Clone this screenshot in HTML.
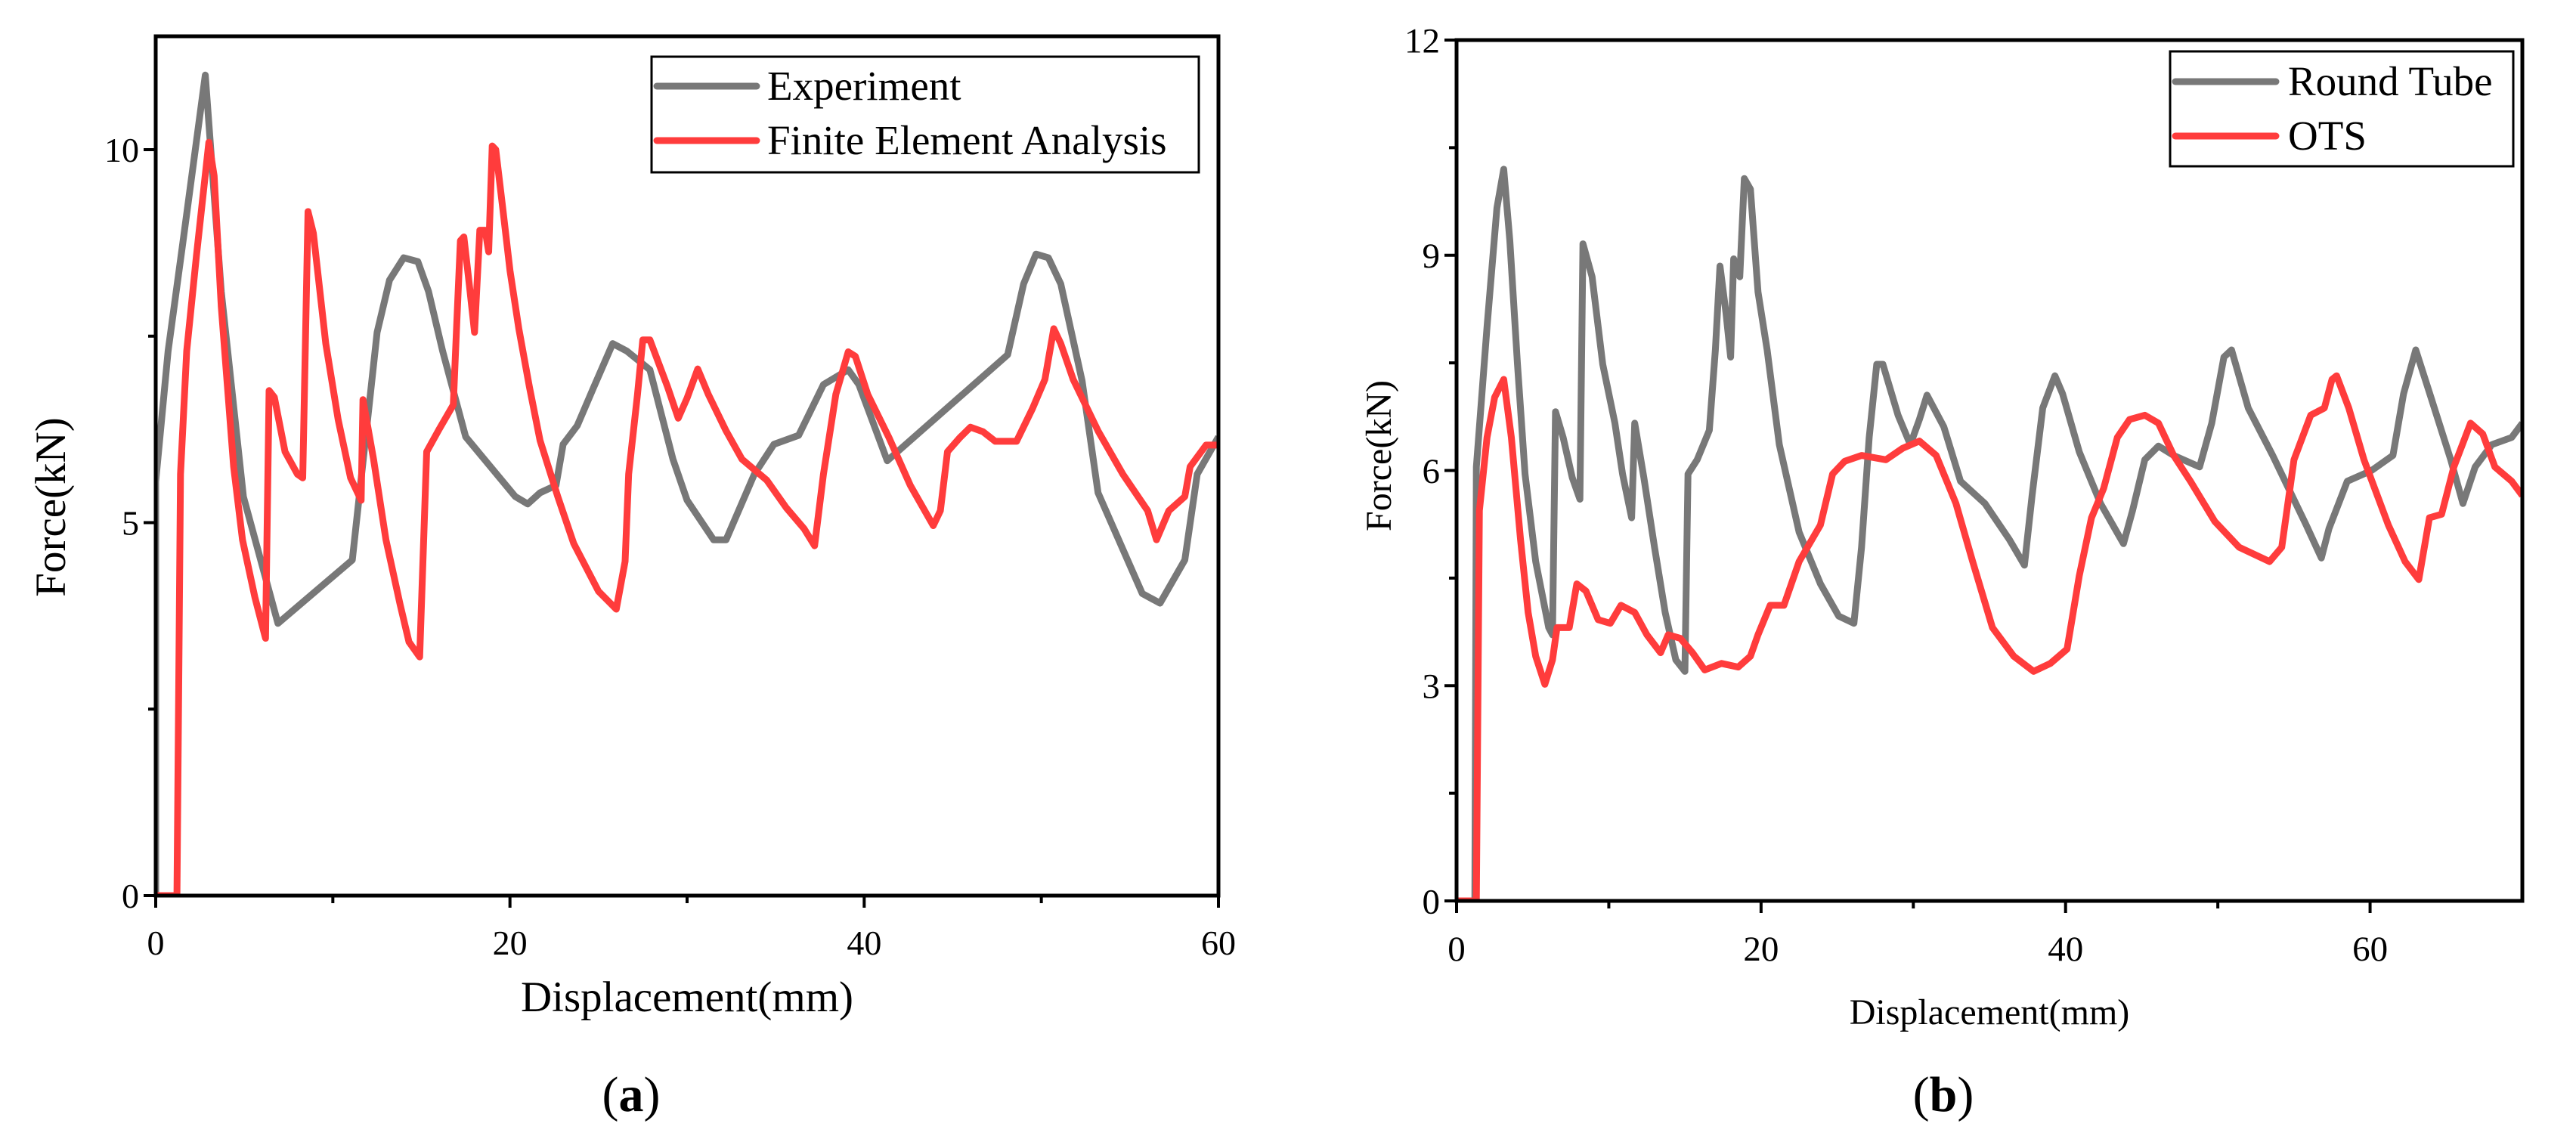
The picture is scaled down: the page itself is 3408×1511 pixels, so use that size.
<!DOCTYPE html>
<html><head><meta charset="utf-8"><style>
html,body{margin:0;padding:0;background:#fff;}
svg{display:block;font-family:"Liberation Serif",serif;}
</style></head><body>
<svg id="fig" width="3408" height="1511" viewBox="0 0 3408 1511" xmlns="http://www.w3.org/2000/svg">
<g id="pa"></g>
<g id="pb"></g>
</svg>
<script>
// Panel (a) data
const aExpX=[0,0,0.7,1.5,2.8,3.7,4.95,6.9,11.1,12.5,13.2,14.0,14.8,15.4,16.2,17.5,20.3,21.0,21.7,22.6,23.0,23.8,24.7,25.8,26.6,27.9,29.2,30.0,31.5,32.2,33.8,34.9,36.3,37.7,39.1,39.7,41.3,48.1,49.0,49.7,50.4,51.1,52.3,53.2,55.7,56.7,58.1,58.8,60];
const aExpY=[0,5.55,7.3,8.7,11.0,8.1,5.35,3.65,4.5,7.55,8.25,8.55,8.5,8.1,7.3,6.15,5.35,5.25,5.4,5.5,6.05,6.3,6.8,7.4,7.3,7.05,5.85,5.3,4.77,4.77,5.65,6.05,6.17,6.85,7.05,6.85,5.83,7.25,8.2,8.6,8.55,8.2,6.9,5.4,4.05,3.92,4.5,5.65,6.15];
const aFeaX=[0,1.2,1.4,1.75,2.3,3.0,3.3,3.7,4.4,4.9,5.6,6.2,6.4,6.7,7.3,8.0,8.3,8.6,8.9,9.6,10.3,11.0,11.6,11.7,12.3,13.0,13.8,14.3,14.9,15.3,16.0,16.8,17.0,17.2,17.4,17.7,18.0,18.3,18.6,18.8,19.0,19.2,19.6,20.0,20.5,21.1,21.7,22.7,23.6,25.0,26.0,26.5,26.7,27.2,27.5,27.9,28.9,29.5,30.0,30.6,31.2,32.2,33.1,34.5,35.6,36.6,37.2,37.7,38.4,39.1,39.5,40.2,41.4,42.6,43.9,44.3,44.7,45.4,46.0,46.7,47.4,48.6,49.5,50.2,50.7,51.1,51.8,53.2,54.6,56.0,56.5,57.2,58.1,58.4,59.3,60];
const aFeaY=[0,0,5.65,7.3,8.58,10.1,9.65,7.9,5.75,4.77,4.0,3.45,6.77,6.68,5.95,5.65,5.6,9.17,8.88,7.4,6.38,5.6,5.3,6.65,5.85,4.77,3.9,3.4,3.2,5.95,6.25,6.58,7.7,8.78,8.83,8.2,7.55,8.92,8.92,8.63,10.05,10.0,9.2,8.38,7.6,6.82,6.1,5.35,4.72,4.08,3.84,4.48,5.65,6.72,7.45,7.45,6.82,6.4,6.67,7.06,6.72,6.23,5.85,5.57,5.2,4.92,4.69,5.65,6.72,7.29,7.23,6.72,6.14,5.5,4.96,5.16,5.95,6.14,6.28,6.22,6.09,6.09,6.53,6.92,7.6,7.4,6.92,6.23,5.65,5.16,4.77,5.16,5.35,5.75,6.04,6.04];
const aXTicks=[0,20,40,60];
const aYTicks=[0,5,10];
// Panel (b) data
const bTubeX=[0,1.2,1.3,2.0,2.65,3.1,3.5,4.0,4.5,5.2,6.05,6.3,6.5,7.0,7.6,8.1,8.3,8.9,9.6,10.4,10.9,11.5,11.7,12.3,13.0,13.7,14.4,15.0,15.2,15.8,16.6,17.0,17.3,17.7,18.0,18.2,18.6,18.9,19.3,19.8,20.4,21.2,22.5,23.9,25.1,26.1,26.6,27.1,27.6,28.0,29.0,29.8,30.4,30.9,32.0,33.1,34.7,36.3,37.3,37.8,38.5,39.3,39.8,40.9,42.3,43.8,44.4,45.2,46.1,47.1,48.8,49.6,50.4,50.9,52.0,53.6,55.8,56.8,57.3,58.5,60.1,61.5,62.2,63.0,64.0,65.3,66.1,66.9,68.0,69.3,70];
const bTubeY=[0,0,6.05,8.0,9.66,10.2,9.2,7.48,5.95,4.73,3.81,3.71,6.82,6.46,5.9,5.6,9.16,8.7,7.48,6.66,5.95,5.34,6.66,5.9,4.93,4.02,3.36,3.2,5.95,6.15,6.56,7.68,8.85,8.19,7.58,8.95,8.7,10.07,9.92,8.49,7.68,6.36,5.14,4.42,3.97,3.87,4.93,6.46,7.48,7.48,6.77,6.36,6.71,7.05,6.61,5.85,5.54,5.04,4.68,5.65,6.87,7.32,7.07,6.26,5.54,4.98,5.44,6.15,6.34,6.21,6.05,6.66,7.58,7.68,6.87,6.21,5.24,4.78,5.19,5.85,6.0,6.21,7.07,7.68,7.02,6.15,5.54,6.05,6.36,6.46,6.66];
const bOtsX=[0,1.3,1.5,2.0,2.5,3.1,3.6,4.2,4.7,5.2,5.8,6.3,6.6,7.4,7.9,8.5,9.3,10.1,10.8,11.7,12.5,13.4,13.9,14.7,15.5,16.3,17.4,18.5,19.3,19.8,20.6,21.5,22.5,23.9,24.7,25.5,26.6,28.2,29.3,30.4,31.5,32.8,33.9,35.2,36.6,37.9,39.0,40.1,40.9,41.7,42.5,43.4,44.2,45.2,46.1,47.1,48.2,49.8,51.4,53.4,54.2,55.0,56.1,57.0,57.5,57.8,58.6,59.6,61.2,62.3,63.2,63.9,64.7,65.5,66.6,67.4,68.2,69.3,70];
const bOtsY=[0,0,5.44,6.46,7.02,7.27,6.46,5.04,4.02,3.41,3.02,3.36,3.81,3.81,4.42,4.32,3.92,3.87,4.12,4.02,3.71,3.46,3.71,3.66,3.46,3.22,3.31,3.26,3.41,3.71,4.12,4.12,4.73,5.24,5.95,6.13,6.21,6.15,6.31,6.41,6.21,5.54,4.73,3.81,3.41,3.2,3.31,3.51,4.53,5.34,5.75,6.46,6.71,6.77,6.66,6.21,5.85,5.29,4.93,4.73,4.93,6.15,6.77,6.87,7.27,7.32,6.87,6.15,5.24,4.73,4.48,5.34,5.39,6.05,6.66,6.51,6.05,5.85,5.65];
const bXTicks=[0,20,40,60];
const bYTicks=[0,3,6,9,12];

const NS="http://www.w3.org/2000/svg";
function mk(parent,tag,attrs,text){const e=document.createElementNS(NS,tag);for(const k in attrs)e.setAttribute(k,attrs[k]);if(text!==undefined)e.textContent=text;parent.appendChild(e);return e;}

function panel(g,cfg){
  const sx=v=>cfg.L+(v-cfg.x0)/(cfg.x1-cfg.x0)*(cfg.R-cfg.L);
  const sy=v=>cfg.B-(v-cfg.y0)/(cfg.y1-cfg.y0)*(cfg.B-cfg.T);
  const clip='clip'+cfg.id;
  const d=mk(g,'defs',{});const cp=mk(d,'clipPath',{id:clip});mk(cp,'rect',{x:cfg.L,y:cfg.T,width:cfg.R-cfg.L,height:cfg.B-cfg.T});
  // series
  cfg.series.forEach(s=>{
    let p='';s.x.forEach((xv,i)=>{p+=(i?'L':'M')+sx(xv).toFixed(1)+' '+sy(s.y[i]).toFixed(1);});
    const path=mk(g,'path',{d:p,fill:'none',stroke:s.color,'stroke-width':9,'stroke-linejoin':'round','clip-path':'url(#'+clip+')'});
    
    
  });
  // frame
  const fr=mk(g,'rect',{x:cfg.L,y:cfg.T,width:cfg.R-cfg.L,height:cfg.B-cfg.T,fill:'none',stroke:'#000','stroke-width':5});
  
  // x ticks
  cfg.xt.forEach((v,i)=>{
    const X=sx(v);mk(g,'line',{x1:X,x2:X,y1:cfg.B,y2:cfg.B+16,stroke:'#000','stroke-width':4});
    const t=mk(g,'text',{x:X,y:cfg.B+cfg.fs+32,'font-size':cfg.fs,'text-anchor':'middle'},v);
    
    if(i<cfg.xt.length-1){const m=(v+cfg.xt[i+1])/2;if(m<cfg.x1){const Xm=sx(m);mk(g,'line',{x1:Xm,x2:Xm,y1:cfg.B,y2:cfg.B+10,stroke:'#000','stroke-width':4});}}
  });
  cfg.yt.forEach((v,i)=>{
    const Y=sy(v);mk(g,'line',{x1:cfg.L-16,x2:cfg.L,y1:Y,y2:Y,stroke:'#000','stroke-width':4});
    const t=mk(g,'text',{x:cfg.L-22,y:Y+cfg.fs*0.35,'font-size':cfg.fs,'text-anchor':'end'},v);
    
    if(i<cfg.yt.length-1){const m=(v+cfg.yt[i+1])/2;const Ym=sy(m);mk(g,'line',{x1:cfg.L-10,x2:cfg.L,y1:Ym,y2:Ym,stroke:'#000','stroke-width':4});}
  });
  const xt=mk(g,'text',{x:(cfg.L+cfg.R)/2,y:cfg.xtY,'font-size':cfg.tfs,'text-anchor':'middle'},'Displacement(mm)');
  
  const yt=mk(g,'text',{x:0,y:0,'font-size':cfg.tfs,'text-anchor':'middle',transform:'translate('+cfg.ytX+','+cfg.ytY+') rotate(-90)'},'Force(kN)');
  
  // legend
  const lg=mk(g,'g',{});
  mk(lg,'rect',{x:cfg.lg.x,y:cfg.lg.y,width:cfg.lg.w,height:cfg.lg.h,fill:'#fff',stroke:'#000','stroke-width':3});
  cfg.series.forEach((s,i)=>{
    const yy=cfg.lg.rows[i];
    const e=mk(lg,'g',{});
    mk(e,'line',{x1:cfg.lg.lx1,x2:cfg.lg.lx2,y1:yy,y2:yy,stroke:s.color,'stroke-width':9,'stroke-linecap':'round'});
    mk(e,'text',{x:cfg.lg.tx,y:yy+cfg.lg.fs*0.33,'font-size':cfg.lg.fs},s.label);
  });
  const pl=mk(g,'text',{x:cfg.plX,y:1470,'font-size':66,'text-anchor':'middle'});
  
  mk(pl,'tspan',{},'(');mk(pl,'tspan',{'font-weight':'bold'},cfg.pl);mk(pl,'tspan',{},')');
}

panel(document.getElementById('pa'),{id:'a',L:206,R:1612,T:48,B:1185,x0:0,x1:60,y0:0,y1:11.52,xt:aXTicks,yt:aYTicks,fs:46,tfs:57,xtY:1338,ytX:86,ytY:671,
  series:[{name:'experiment-line',label:'Experiment',x:aExpX,y:aExpY,color:'#787878'},{name:'fea-line',label:'Finite Element Analysis',x:aFeaX,y:aFeaY,color:'#ff3c3c'}],
  lg:{x:862,y:75,w:724,h:153,rows:[114,186],lx1:869,lx2:1001,tx:1015,fs:55},pl:'a',plX:835});
panel(document.getElementById('pb'),{id:'b',L:1927,R:3337,T:53,B:1192,x0:0,x1:70,y0:0,y1:12,xt:bXTicks,yt:bYTicks,fs:47,tfs:48,xtY:1355,ytX:1840,ytY:603,
  series:[{name:'round-tube-line',label:'Round Tube',x:bTubeX,y:bTubeY,color:'#787878'},{name:'ots-line',label:'OTS',x:bOtsX,y:bOtsY,color:'#ff3c3c'}],
  lg:{x:2871,y:68,w:454,h:152,rows:[108,180],lx1:2878,lx2:3011,tx:3027,fs:55},pl:'b',plX:2571});
</script>
</body></html>
